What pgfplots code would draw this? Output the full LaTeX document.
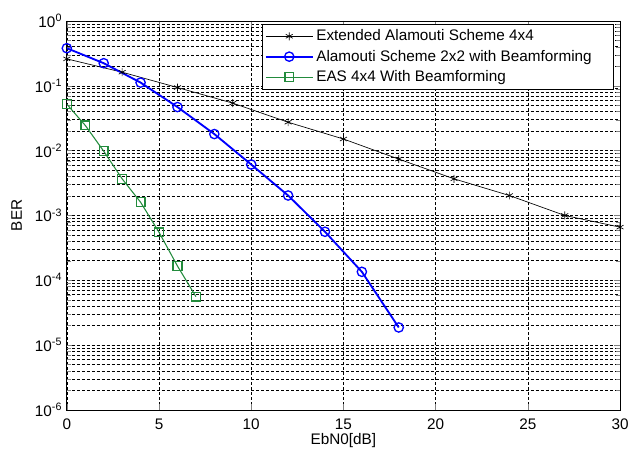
\documentclass[border=0pt]{standalone}
\usepackage{fontspec}
\setmainfont{Liberation Sans}
\usepackage{pgfplots}
\pgfplotsset{compat=1.18}
\definecolor{mgreen}{RGB}{34,139,60}
\newcommand{\fs}{\fontsize{11.5}{13}\selectfont}
\begin{document}
\begin{tikzpicture}
\begin{axis}[
  scale only axis,
  width=416pt, height=292.5pt,
  xmin=0, xmax=30,
  ymode=log, ymin=1e-6, ymax=1,
  xtick={0,5,...,30},
  ytick={1e-6,1e-5,1e-4,1e-3,1e-2,1e-1,1},
  yticklabels={10\textsuperscript{-6},10\textsuperscript{-5},10\textsuperscript{-4},10\textsuperscript{-3},10\textsuperscript{-2},10\textsuperscript{-1},10\textsuperscript{0}},
  /pgf/number format/assume math mode=true,
  tick label style={font=\fs},
  label style={font=\fs},
  xlabel={EbN0[dB]}, ylabel={BER},
  xlabel style={yshift=4pt},
  ylabel shift=3pt,
  xticklabel style={yshift=-3pt},
  tick align=inside,
  xtick pos=both, ytick pos=both,
  grid=both,
  minor x tick num=0,
  xminorgrids=false,
  major grid style={black, dash pattern=on 2.25pt off 1.5pt, line width=0.4pt},
  minor grid style={black, dash pattern=on 2.25pt off 1.5pt, line width=0.4pt},
  axis line style={black, line width=0.6pt},
  legend style={at={(rel axis cs:1,1)}, anchor=north east, xshift=-5pt, yshift=-2.3pt, font=\fs, draw=black, line width=0.6pt, fill=white, inner xsep=2pt, inner ysep=2pt, row sep=1.5pt},
  legend cell align=left,
  legend image code/.code={\draw[mark repeat=2,mark phase=2,#1] plot coordinates {(0cm,0cm) (0.62cm,0cm) (1.24cm,0cm)};},
]
\addplot[black, line width=0.5pt, mark=asterisk, mark size=3pt] coordinates {
(0,0.26) (3,0.162) (6,0.094) (9,0.054) (12,0.0274) (15,0.0151) (18,0.0074) (21,0.00367) (24,0.00203) (27,0.001) (30,0.00066)};
\addlegendentry{Extended Alamouti Scheme 4x4}
\addplot[blue, line width=1.4pt, mark=o, mark size=3.5pt, mark options={line width=1pt}] coordinates {
(0,0.38) (2,0.223) (4,0.112) (6,0.047) (8,0.018) (10,0.0061) (12,0.00203) (14,0.00056) (16,0.000135) (18,0.0000187)};
\addlegendentry{Alamouti Scheme 2x2 with Beamforming\hspace*{12pt}}
\addplot[mgreen, line width=0.8pt, mark=square, mark size=3.3pt, mark options={line width=1pt}] coordinates {
(0,0.052) (1,0.0245) (2,0.0098) (3,0.00367) (4,0.0016) (5,0.00055) (6,0.000166) (7,0.000056)};
\addlegendentry{EAS 4x4 With Beamforming}
\end{axis}
\pgfresetboundingbox
\useasboundingbox ([shift={(-50.25pt,-33pt)}]current axis.south west) rectangle ([shift={(7.5pt,15.75pt)}]current axis.north east);
\end{tikzpicture}
\end{document}
